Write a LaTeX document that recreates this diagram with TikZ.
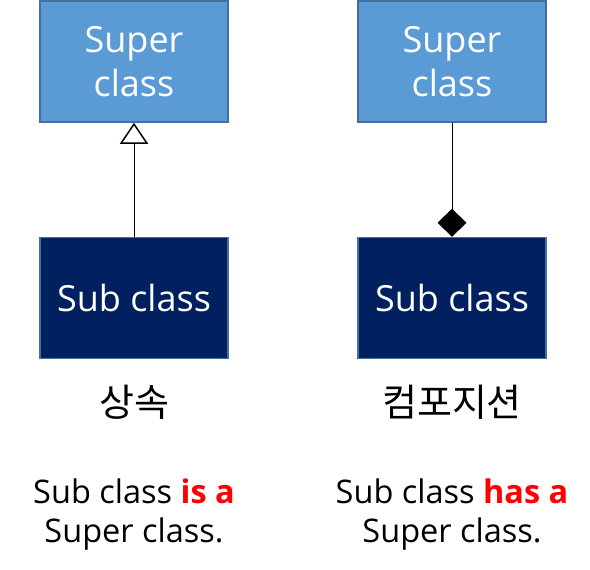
\documentclass[tikz,border=0pt]{standalone}
\usepackage{fontspec}
\setmainfont{Open Sans}
\newfontfamily\krfont{Noto Sans CJK KR}
\usetikzlibrary{arrows.meta, positioning}
\definecolor{SuperBlue}{HTML}{5B9BD5}
\definecolor{SubNavy}{HTML}{002060}
\definecolor{EdgeBlue}{HTML}{41719C}
\definecolor{HasRed}{HTML}{FF0000}

\begin{document}
\begin{tikzpicture}[
    x=1pt, y=-1pt,
    node distance=114pt and 130pt,
    superbox/.style={rectangle, draw=EdgeBlue, line width=1.5pt, fill=SuperBlue, text=white, minimum width=188pt, minimum height=121pt, align=center, font=\fontsize{36}{44}\selectfont},
    subbox/.style={superbox, fill=SubNavy},
    kind_lbl/.style={font=\krfont\fontsize{38}{44}\selectfont},
    rel_lbl/.style={align=center, font=\fontsize{32.5}{39}\selectfont},
    inherit/.style={-{Triangle[open, length=21pt, width=28pt, line width=1.5pt]}, line width=1pt},
    compose/.style={-{Diamond[length=28pt, width=29pt]}, line width=1pt}
    ]
    \useasboundingbox (0,0) rectangle (590,570);

    % Nodes
    \node[superbox] (sup1) at (134,61.5) {Super\\class};
    \node[subbox, below=of sup1] (sub1) {Sub class};
    \node[superbox] (sup2) at (452,61.5) {Super\\class};
    \node[subbox, below=of sup2] (sub2) {Sub class};
    \node[kind_lbl, below=22pt of sub1] (inh) {상속};
    \node[kind_lbl, below=22pt of sub2] (comp) {컴포지션};
    \node[rel_lbl, below=53pt of inh] (isa) {Sub class \textbf{\color{HasRed}is a}\\Super class.};
    \node[rel_lbl, below=53pt of comp] (hasa) {Sub class \textbf{\color{HasRed}has a}\\Super class.};

    % Edges
    \draw[inherit] (sub1) -- (sup1);
    \draw[compose] (sup2) -- (sub2);
\end{tikzpicture}
\end{document}
